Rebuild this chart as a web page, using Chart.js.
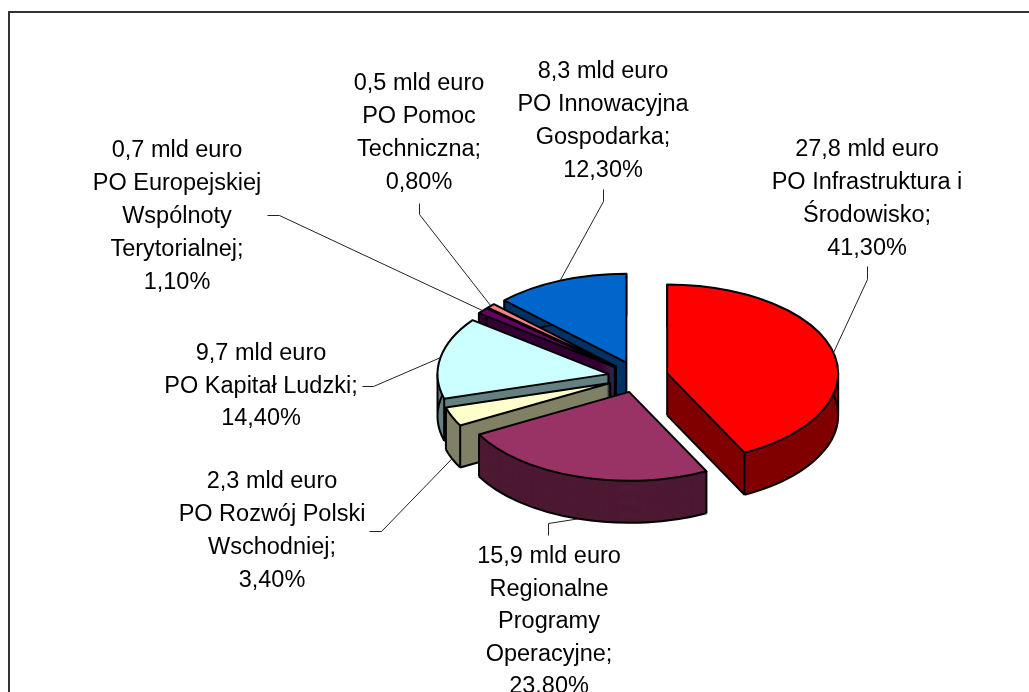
<!DOCTYPE html>
<html lang="pl">
<head>
<meta charset="utf-8">
<title>Programy Operacyjne</title>
<script src="https://cdn.jsdelivr.net/npm/chart.js@4"></script>
<style>
  html, body { margin: 0; padding: 0; background: #fff; overflow: hidden; }
  #wrap { position: relative; width: 1029px; height: 692px; }
</style>
</head>
<body>
<div id="wrap"><canvas id="chart"></canvas></div>
<script>
// slices clockwise from 12 o'clock
const categories = ['PO Infrastruktura i Środowisko', 'Regionalne Programy Operacyjne', 'PO Rozwój Polski Wschodniej',
  'PO Kapitał Ludzki', 'PO Europejskiej Wspólnoty Terytorialnej', 'PO Pomoc Techniczna', 'PO Innowacyjna Gospodarka'];
const amounts = [27.8, 15.9, 2.3, 9.7, 0.7, 0.5, 8.3];
const shares = [41.3, 23.8, 3.4, 14.4, 1.1, 0.8, 12.3];
const nameLines = [
  ['PO Infrastruktura i', 'Środowisko;'],
  ['Regionalne', 'Programy', 'Operacyjne;'],
  ['PO Rozwój Polski', 'Wschodniej;'],
  ['PO Kapitał Ludzki;'],
  ['PO Europejskiej', 'Wspólnoty', 'Terytorialnej;'],
  ['PO Pomoc', 'Techniczna;'],
  ['PO Innowacyjna', 'Gospodarka;']
];
const topColors = ['#ff0000', '#993366', '#ffffcc', '#ccffff', '#660066', '#ff8080', '#0066cc'];
const wallColors = ['#800000', '#4d1a33', '#808066', '#668080', '#330033', '#804040', '#003366'];

// look of the fake 3d pie
const center = { x: 638, y: 377 };
const radius = 171, squash = 0.52, depth = 42, explode = 30;

// label placement: x centre, y of first line, line step, leader elbow points
const labelBoxes = [
  { x: 867, y: 150, step: 32.7, leader: [[867, 266], [867, 279]] },
  { x: 549, y: 557, step: 32.5, leader: [[548, 535], [548, 523]] },
  { x: 272, y: 482, step: 32.7, leader: [[369, 531], [381, 531]] },
  { x: 261, y: 354, step: 32.5, leader: [[362, 386], [373, 386]] },
  { x: 177, y: 151, step: 32.8, leader: [[267, 215], [279, 215]] },
  { x: 419, y: 84, step: 33, leader: [[419, 203], [419, 214]] },
  { x: 603, y: 72, step: 32.7, leader: [[603, 189], [603, 201]] }
];

const fmt = (v, d) => v.toFixed(d).replace('.', ',');

function squashCtx(ctx, chart) {
  const a = chart.chartArea;
  ctx.translate(center.x, center.y);
  ctx.scale(1, squash);
  ctx.translate(-(a.left + a.right) / 2, -(a.top + a.bottom) / 2);
}

// arc geometry read back from the library, pushed out by the explosion
function geom(el) {
  const p = el.getProps(['x', 'y', 'startAngle', 'endAngle', 'outerRadius']);
  const mid = (p.startAngle + p.endAngle) / 2;
  return { ...p, mid, dx: Math.cos(mid) * explode, dy: Math.sin(mid) * explode,
    x: p.x + Math.cos(mid) * explode, y: p.y + Math.sin(mid) * explode };
}

function slicePath(ctx, g, dy) {
  ctx.beginPath();
  ctx.moveTo(g.x, g.y + dy);
  ctx.arc(g.x, g.y + dy, g.outerRadius, g.startAngle, g.endAngle);
  ctx.closePath();
}

function drawWall(ctx, chart, g, color) {
  const dyMax = depth / squash;
  const at = t => [g.x + Math.cos(t) * g.outerRadius, g.y + Math.sin(t) * g.outerRadius];
  ctx.save();
  squashCtx(ctx, chart);
  ctx.fillStyle = color;
  for (let dy = dyMax; dy >= 0; dy -= 1) {
    slicePath(ctx, g, dy);
    ctx.fill();
  }
  // lower rim, then the radial bottom edges of faces turned to the viewer
  ctx.beginPath();
  ctx.arc(g.x, g.y + dyMax, g.outerRadius, g.startAngle, g.endAngle);
  if (Math.cos(g.startAngle) < -1e-6) {
    const s = at(g.startAngle);
    ctx.moveTo(s[0], s[1] + dyMax);
    ctx.lineTo(g.x, g.y + dyMax);
  }
  if (Math.cos(g.endAngle) > 1e-6) {
    const e = at(g.endAngle);
    ctx.moveTo(e[0], e[1] + dyMax);
    ctx.lineTo(g.x, g.y + dyMax);
  }
  // vertical edges: apex, both corners, and the ellipse sides if the arc crosses them
  const edges = [[g.x, g.y], at(g.startAngle), at(g.endAngle)];
  [0, Math.PI].forEach(t => { if (t > g.startAngle && t < g.endAngle) edges.push(at(t)); });
  edges.forEach(([x, y]) => { ctx.moveTo(x, y); ctx.lineTo(x, y + dyMax); });
  ctx.restore();
  ctx.stroke();
}

const pie3d = {
  id: 'pie3d',
  beforeDraw(chart) {
    const ctx = chart.ctx;
    ctx.save();
    ctx.fillStyle = '#333';
    ctx.fillRect(8, 11, 1021, 2);
    ctx.fillRect(8, 11, 2, 681);
    ctx.restore();
  },
  // the slices are drawn from here so each can be moved out and squashed first
  beforeDatasetsDraw(chart) {
    const ctx = chart.ctx;
    const arcs = chart.getDatasetMeta(0).data;
    const a = chart.chartArea;
    const cx = (a.left + a.right) / 2, cy = (a.top + a.bottom) / 2;
    const sx = x => center.x + x - cx;
    const sy = y => center.y + (y - cy) * squash;
    const order = arcs.map((el, i) => ({ g: geom(el), i }))
      .sort((p, q) => Math.sin(p.g.mid) - Math.sin(q.g.mid));

    ctx.save();
    ctx.lineWidth = 2;
    ctx.strokeStyle = '#000';
    ctx.lineJoin = 'round';
    order.forEach(({ g, i }) => drawWall(ctx, chart, g, wallColors[i]));

    arcs.forEach(el => {
      const g = geom(el);
      ctx.save();
      squashCtx(ctx, chart);
      ctx.translate(g.dx, g.dy);
      el.draw(ctx, a);
      ctx.restore();
    });

    // outline of the tops, stroked outside the squash so the pen stays round
    arcs.forEach(el => {
      ctx.save();
      squashCtx(ctx, chart);
      slicePath(ctx, geom(el), 0);
      ctx.restore();
      ctx.stroke();
    });
    ctx.restore();

    // leaders
    ctx.save();
    ctx.lineWidth = 1;
    ctx.strokeStyle = '#222';
    arcs.forEach((el, i) => {
      const g = geom(el);
      const ex = sx(g.x + Math.cos(g.mid) * g.outerRadius);
      let ey = sy(g.y + Math.sin(g.mid) * g.outerRadius);
      if (Math.sin(g.mid) > 0.3) ey += depth;
      const pts = labelBoxes[i].leader;
      ctx.beginPath();
      ctx.moveTo(pts[0][0] + 0.5, pts[0][1] + 0.5);
      ctx.lineTo(pts[1][0] + 0.5, pts[1][1] + 0.5);
      ctx.lineTo(ex, ey);
      ctx.stroke();
    });
    ctx.restore();

    // labels
    ctx.save();
    ctx.font = '23.5px "Liberation Sans", Arial, sans-serif';
    ctx.fillStyle = '#000';
    ctx.textAlign = 'center';
    ctx.textBaseline = 'middle';
    categories.forEach((c, i) => {
      const lines = [fmt(amounts[i], 1) + ' mld euro', ...nameLines[i], fmt(shares[i], 2) + '%'];
      const box = labelBoxes[i];
      lines.forEach((t, n) => ctx.fillText(t, box.x, box.y + n * box.step));
    });
    ctx.restore();
    return false;
  }
};

new Chart(document.getElementById('chart'), {
  type: 'pie',
  data: {
    labels: categories,
    datasets: [{
      data: shares,
      backgroundColor: topColors,
      borderWidth: 0,
      radius: radius
    }]
  },
  options: {
    responsive: true,
    maintainAspectRatio: false,
    animation: false,
    events: [],
    plugins: { legend: { display: false }, tooltip: { enabled: false } }
  },
  plugins: [pie3d]
});
</script>
</body>
</html>
